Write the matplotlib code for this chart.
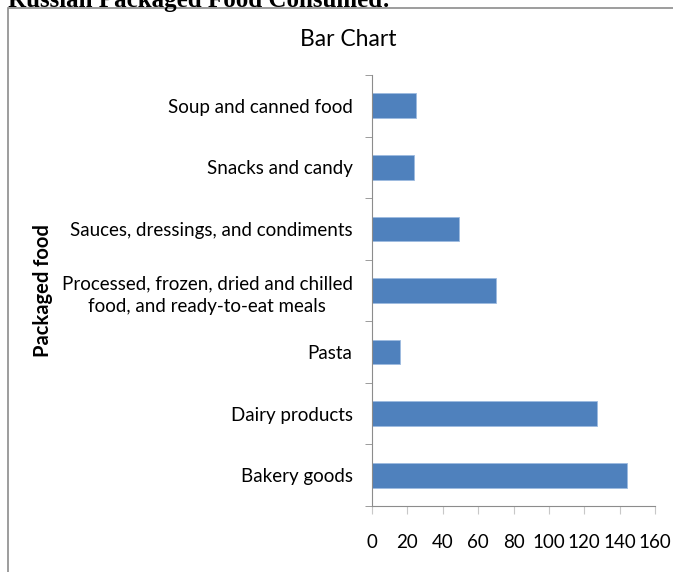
import matplotlib.pyplot as plt
from matplotlib.patches import Rectangle

categories = ['Bakery goods', 'Dairy products', 'Pasta',
              'Processed, frozen, dried and chilled\nfood, and ready-to-eat meals',
              'Sauces, dressings, and condiments', 'Snacks and candy',
              'Soup and canned food']
values = [144, 127, 16, 70, 49, 24, 25]
xticks = [0, 20, 40, 60, 80, 100, 120, 140, 160]

plt.rcParams['font.family'] = ['Lato', 'DejaVu Sans']

fig = plt.figure(figsize=(6.73, 5.72), dpi=100)

# heading of the page, cut off at the top as in the screenshot
fig.text(0.012, 1.0, 'Russian Packaged Food Consumed:', family='Liberation Serif',
         fontweight='bold', fontsize=18, va='center', ha='left')

# chart border
fig.patches.append(Rectangle((8 / 673, -0.01), 1.0, 1 - 8 / 572 + 0.01,
                             transform=fig.transFigure, fill=False,
                             edgecolor='#8c8c8c', linewidth=1.2))

ax = fig.add_axes([372 / 673, 1 - 506 / 572, 283 / 673, 431 / 572])
pos = range(len(categories))
ax.barh(pos, values, height=0.4, color='#4f81bd', edgecolor='#9dbbe0', linewidth=0.6)
ax.set_ylim(-0.5, len(categories) - 0.5)
ax.set_xlim(0, 160)
ax.set_xticks(xticks)
ax.set_xticklabels([str(t) for t in xticks], fontsize=13.5)
ax.set_yticks([p for p in pos])
ax.set_yticklabels(categories, fontsize=13.5, ha='right', multialignment='center',
                   linespacing=1.45)
ax.set_yticks([p - 0.5 for p in range(len(categories) + 1)], minor=True)
ax.tick_params(axis='y', which='major', length=0, pad=14)
ax.tick_params(axis='y', which='minor', length=5, color='#8c8c8c', direction='out')
ax.tick_params(axis='x', length=6, color='#c8c8c8', direction='out', pad=14)
for s in ['top', 'right']:
    ax.spines[s].set_visible(False)
ax.spines['left'].set_color('#8c8c8c')
ax.spines['bottom'].set_color('#8c8c8c')
ax.set_ylabel('Packaged food', fontsize=14.5, fontweight='bold')
ax.yaxis.set_label_coords(-1.128, 0.5)
fig.text(348 / 673, 1 - 39 / 572, 'Bar Chart', fontsize=16.5, ha='center', va='center')

fig.savefig('out.png', dpi=100)
